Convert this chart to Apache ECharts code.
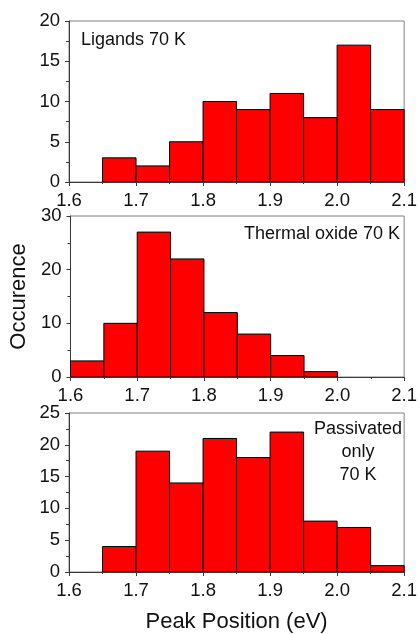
<!DOCTYPE html>
<html>
<head>
<meta charset="utf-8">
<script src="https://cdn.jsdelivr.net/npm/echarts@6/dist/echarts.min.js"></script>
<style>
html,body{margin:0;padding:0;background:#fff;}
#chart{width:420px;height:634px;}
</style>
</head>
<body>
<div id="chart"></div>
<script>
// Histogram bin edges (eV)
var binLo = [1.60, 1.65, 1.70, 1.75, 1.80, 1.85, 1.90, 1.95, 2.00, 2.05];
var binHi = [1.65, 1.70, 1.75, 1.80, 1.85, 1.90, 1.95, 2.00, 2.05, 2.10];
// Occurrence counts per bin
var ligands    = [0, 3, 2, 5, 10, 9, 11, 8, 17, 9];
var thermal    = [3, 10, 27, 22, 12, 8, 4, 1, 0, 0];
var passivated = [0, 4, 19, 14, 21, 18, 22, 8, 7, 1];
// Axis settings
var xTicks = [1.6, 1.7, 1.8, 1.9, 2.0, 2.1];
var yMax = [20, 30, 25];
var yStep = [5, 10, 5];
var panelLabels = ['Ligands 70 K', 'Thermal oxide 70 K', 'Passivated\nonly\n70 K'];

var FONT = '"Liberation Sans", Arial, sans-serif';
var AXC = '#3a3a3a';

function binData(vals) {
  return vals.map(function (v, i) { return [binLo[i], binHi[i], v]; });
}

function renderItem(params, api) {
  var y = api.value(2);
  if (!y) return null;
  var p0 = api.coord([api.value(0), y]);
  var p1 = api.coord([api.value(1), 0]);
  return {
    type: 'rect',
    shape: { x: p0[0], y: p0[1], width: p1[0] - p0[0], height: p1[1] - p0[1] },
    style: { fill: '#ff0000', stroke: '#000', lineWidth: 1 }
  };
}

var grids = [
  { left: 69, right: 14, top: 21, height: 161 },
  { left: 69, right: 14, top: 216, height: 161 },
  { left: 69, right: 14, top: 413, height: 160 }
];

var xAxes = [], yAxes = [], series = [];
var allData = [ligands, thermal, passivated];
for (var g = 0; g < 3; g++) {
  grids[g].show = true;
  grids[g].borderColor = '#808080';
  grids[g].borderWidth = 1;
  grids[g].backgroundColor = 'transparent';
  xAxes.push({
    type: 'value', gridIndex: g, min: xTicks[0], max: xTicks[xTicks.length - 1], interval: 0.1,
    axisLine: { show: true, onZero: false, lineStyle: { color: AXC, width: 1 } },
    axisTick: { show: true, inside: false, length: 4, lineStyle: { color: AXC } },
    minorTick: { show: true, splitNumber: 2, length: 2, lineStyle: { color: AXC } },
    splitLine: { show: false },
    axisLabel: { fontSize: 18.5, fontFamily: FONT, color: '#111', margin: 9,
      formatter: function (v) { return v.toFixed(1); } },
    name: g === 2 ? 'Peak Position (eV)' : '',
    nameLocation: 'middle', nameGap: 39,
    nameTextStyle: { fontSize: 22, fontFamily: FONT, color: '#111' }
  });
  yAxes.push({
    type: 'value', gridIndex: g, min: 0, max: yMax[g], interval: yStep[g],
    axisLine: { show: true, lineStyle: { color: AXC, width: 1 } },
    axisTick: { show: true, inside: false, length: 4, lineStyle: { color: AXC } },
    minorTick: { show: true, splitNumber: 2, length: 3, lineStyle: { color: AXC } },
    splitLine: { show: false },
    axisLabel: { fontSize: 18.5, fontFamily: FONT, color: '#111', margin: 9 },
    name: g === 1 ? 'Occurence' : '',
    nameLocation: 'middle', nameGap: 39, nameRotate: 90,
    nameTextStyle: { fontSize: 22, fontFamily: FONT, color: '#111' }
  });
  series.push({
    type: 'custom', xAxisIndex: g, yAxisIndex: g,
    renderItem: renderItem,
    encode: { x: [0, 1], y: 2 },
    data: binData(allData[g]),
    clip: true
  });
}

var chart = echarts.init(document.getElementById('chart'), null, { renderer: 'canvas' });
chart.setOption({
  animation: false,
  backgroundColor: '#fff',
  grid: grids,
  xAxis: xAxes,
  yAxis: yAxes,
  series: series,
  graphic: [
    { type: 'text', left: 81, top: 31, style: { text: panelLabels[0], font: '18px ' + FONT, fill: '#111' } },
    { type: 'text', right: 20, top: 225, style: { text: panelLabels[1], font: '18px ' + FONT, fill: '#111', textAlign: 'right' } },
    { type: 'text', right: 18, top: 418, style: { text: panelLabels[2], font: '18px ' + FONT, fill: '#111', textAlign: 'center', lineHeight: 23 } }
  ]
});
</script>
</body>
</html>
